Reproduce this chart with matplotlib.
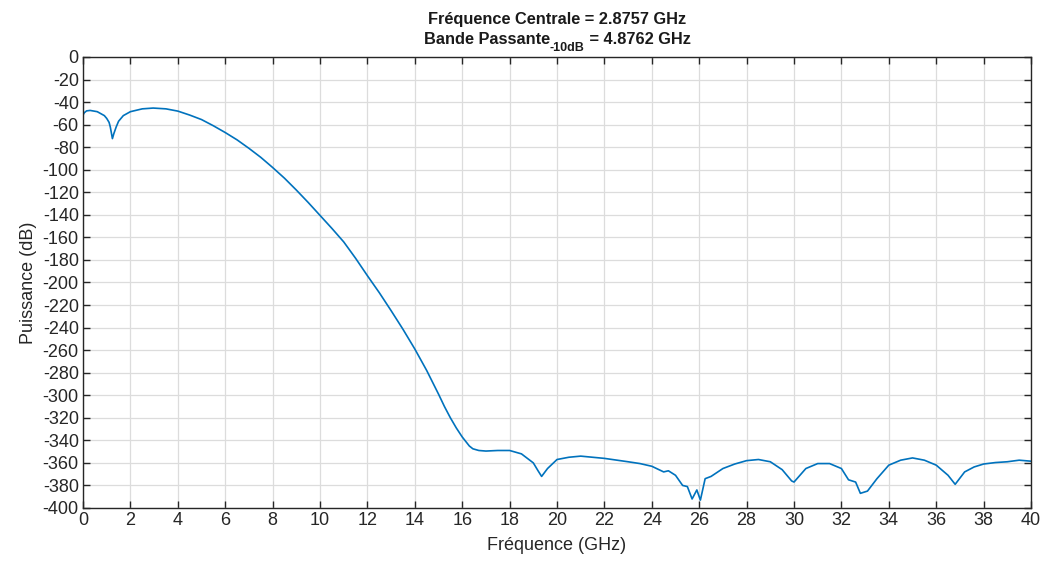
import numpy as np
import matplotlib.pyplot as plt

plt.rcParams['font.family'] = ['Liberation Sans', 'DejaVu Sans']
plt.rcParams['axes.unicode_minus'] = False

# spectre mesure (GHz, dB)
freq = [0.0, 0.05, 0.15, 0.3, 0.6, 0.9, 1.0, 1.1, 1.15, 1.24, 1.3, 1.4, 1.5, 1.7,
        2.0, 2.5, 2.96, 3.5, 4.0, 4.5, 5.0, 5.5, 6.0, 6.5, 7.0, 7.5, 8.0, 8.5,
        9.0, 9.5, 10.0, 10.5, 11.0, 11.5, 12.0, 12.5, 13.0, 13.5, 14.0, 14.5,
        15.0, 15.25, 15.5, 15.75, 16.0, 16.15, 16.3, 16.45, 16.7, 17.0, 17.5,
        18.0, 18.5, 19.0, 19.2, 19.35, 19.6, 20.0, 20.5, 21.0, 22.0, 23.0,
        23.5, 24.0, 24.5, 24.7, 25.0, 25.3, 25.5, 25.7, 25.9, 26.05, 26.25,
        26.5, 27.0, 27.5, 28.0, 28.5, 29.0, 29.5, 29.9, 30.0, 30.5, 31.0, 31.5,
        32.0, 32.3, 32.6, 32.8, 33.1, 33.5, 34.0, 34.5, 35.0, 35.5, 36.0, 36.5,
        36.8, 37.2, 37.6, 38.0, 38.5, 39.0, 39.5, 40.0]
puissance = [-51.5, -49.5, -47.8, -47.4, -48.5, -52.0, -54.5, -58.0, -62.0, -72.4,
             -68.0, -62.0, -57.0, -52.0, -48.5, -46.0, -45.3, -46.0, -48.0, -51.5,
             -55.5, -61.0, -67.0, -73.5, -81.0, -89.0, -98.0, -107.5, -118.0,
             -129.0, -140.5, -152.0, -164.0, -178.5, -194.0, -209.0, -225.0,
             -241.5, -259.0, -278.0, -299.0, -310.0, -320.0, -329.0, -337.0,
             -341.0, -345.0, -347.5, -349.0, -349.5, -349.0, -349.0, -352.0,
             -360.0, -367.0, -372.0, -365.0, -357.0, -355.0, -354.0, -356.0,
             -359.0, -360.6, -363.0, -368.0, -367.0, -371.0, -380.0, -381.0,
             -392.0, -384.0, -393.0, -374.0, -372.0, -365.0, -361.0, -358.0,
             -357.0, -359.0, -366.0, -376.0, -377.0, -365.0, -360.6, -360.6,
             -365.0, -375.0, -377.0, -387.0, -385.0, -374.0, -362.0, -357.6,
             -355.6, -357.6, -362.0, -371.0, -379.0, -368.0, -363.6, -361.0,
             -359.7, -359.0, -357.6, -358.5]

f_centrale = 2.8757
bande = 4.8762

fig = plt.figure(figsize=(10.43, 5.62), dpi=100)
ax = fig.add_axes([0.0796, 0.0961, 0.9089, 0.8025])

ax.plot(freq, puissance, color=(0, 0.447, 0.741), lw=1.2)

ax.set_xlim(0, 40)
ax.set_ylim(-400, 0)
ax.set_xticks(np.arange(0, 41, 2))
ax.set_yticks(np.arange(-400, 1, 20))
ax.grid(True, color='#dcdcdc', lw=0.9)
ax.set_axisbelow(True)

axc = '#262626'
for s in ax.spines.values():
    s.set_color(axc)
    s.set_linewidth(1.0)
ax.tick_params(direction='in', top=True, right=True, length=5, width=1.0,
               color=axc, labelcolor=axc, labelsize=13, pad=3)

ax.set_xlabel('Fréquence (GHz)', fontsize=13, color=axc, labelpad=6)
ax.set_ylabel('Puissance (dB)', fontsize=13, color=axc, labelpad=4)

# titre sur deux lignes, centre sur les axes, indice "-10dB" compose a la main
xc = 0.0796 + 0.9089 / 2
tkw = dict(fontweight='bold', color='#1a1a1a', va='baseline')
fig.text(xc, 0.957, f'Fréquence Centrale = {f_centrale} GHz',
         ha='center', fontsize=11.8, **tkw)

fig.canvas.draw()
r = fig.canvas.get_renderer()
parts = [('Bande Passante', 11.8, 0.0), ('-10dB', 9.0, -0.013),
         (f' = {bande} GHz', 11.8, 0.0)]
arts = [fig.text(0, 0.922 + dy, s, ha='left', fontsize=fs, **tkw)
        for s, fs, dy in parts]
widths = [a.get_window_extent(r).width / fig.bbox.width for a in arts]
x0 = xc - sum(widths) / 2
for a, w in zip(arts, widths):
    a.set_x(x0)
    x0 += w

fig.savefig('out.png', dpi=100)
